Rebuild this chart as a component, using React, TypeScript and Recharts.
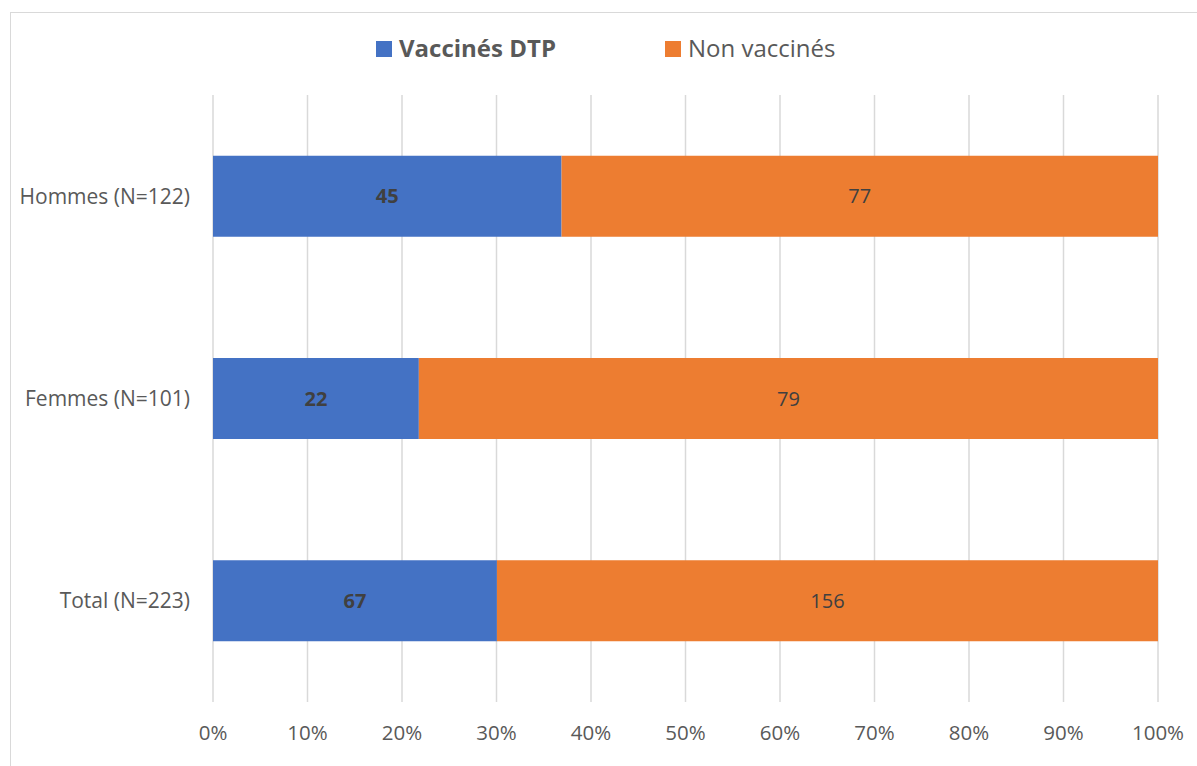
import React from 'react';
import { BarChart, Bar, XAxis, YAxis, CartesianGrid, Legend, LabelList } from 'recharts';

const categories = ['Hommes (N=122)', 'Femmes (N=101)', 'Total (N=223)'];
const vaccines = [45, 22, 67];
const nonVaccines = [77, 79, 156];
const percentTicks = [0, 0.1, 0.2, 0.3, 0.4, 0.5, 0.6, 0.7, 0.8, 0.9, 1];

const seriesNames = { vacc: 'Vaccinés DTP', non: 'Non vaccinés' };
const BLUE = '#4472C4';
const ORANGE = '#ED7D31';
const TEXT = '#595959';
const FONT = '"Open Sans", "Liberation Sans", sans-serif';

const data = categories.map((name, i) => ({ name, vacc: vaccines[i], non: nonVaccines[i] }));

const LegendContent = () => (
  <div style={{ position: 'relative', width: 1197, height: 40, fontFamily: FONT, fontSize: 24, color: TEXT }}>
    <div style={{ position: 'absolute', left: 376, top: 11, width: 16, height: 16, background: BLUE }} />
    <div style={{ position: 'absolute', left: 399, top: 2, lineHeight: '32px', fontWeight: 700 }}>{seriesNames.vacc}</div>
    <div style={{ position: 'absolute', left: 665, top: 11, width: 16, height: 16, background: ORANGE }} />
    <div style={{ position: 'absolute', left: 688, top: 2, lineHeight: '32px' }}>{seriesNames.non}</div>
  </div>
);

export default function App() {
  return (
    <div style={{ position: 'fixed', left: 0, top: 0, width: 1197, height: 766, overflow: 'hidden', background: '#fff' }}>
      <div
        style={{
          position: 'absolute',
          left: 10,
          top: 12,
          width: 1210,
          height: 780,
          border: '1.5px solid #D9D9D9',
          boxSizing: 'border-box',
        }}
      />
      <div style={{ position: 'absolute', left: 0, top: 0 }}>
        <BarChart
          width={1197}
          height={766}
          data={data}
          layout="vertical"
          stackOffset="expand"
          barCategoryGap="30%"
          margin={{ top: 95, right: 39, bottom: 24, left: 13 }}
        >
          <CartesianGrid horizontal={false} stroke="#D9D9D9" strokeWidth={1.5} />
          <XAxis
            type="number"
            domain={[0, 1]}
            ticks={percentTicks}
            tickFormatter={(v: number) => `${Math.round(v * 100)}%`}
            axisLine={false}
            tickLine={false}
            tickSize={0}
            tickMargin={23}
            height={40}
            tick={{ fill: TEXT, fontSize: 20.5, fontFamily: FONT }}
            interval={0}
          />
          <YAxis
            type="category"
            dataKey="name"
            width={200}
            axisLine={false}
            tickLine={false}
            tickSize={0}
            tickMargin={23}
            tick={{ fill: TEXT, fontSize: 21, fontFamily: FONT }}
          />
          <Legend
            layout="horizontal"
            verticalAlign="middle"
            align="center"
            wrapperStyle={{ position: 'absolute', top: 30, left: 0, width: 1197 }}
            content={() => <LegendContent />}
          />
          <Bar dataKey="vacc" name={seriesNames.vacc} stackId="a" fill={BLUE} isAnimationActive={false}>
            <LabelList
              dataKey="vacc"
              position="center"
              fill="#404040"
              fontSize={20}
              fontWeight={700}
              fontFamily={FONT}
            />
          </Bar>
          <Bar dataKey="non" name={seriesNames.non} stackId="a" fill={ORANGE} isAnimationActive={false}>
            <LabelList dataKey="non" position="center" fill="#404040" fontSize={20} fontFamily={FONT} />
          </Bar>
        </BarChart>
      </div>
    </div>
  );
}
